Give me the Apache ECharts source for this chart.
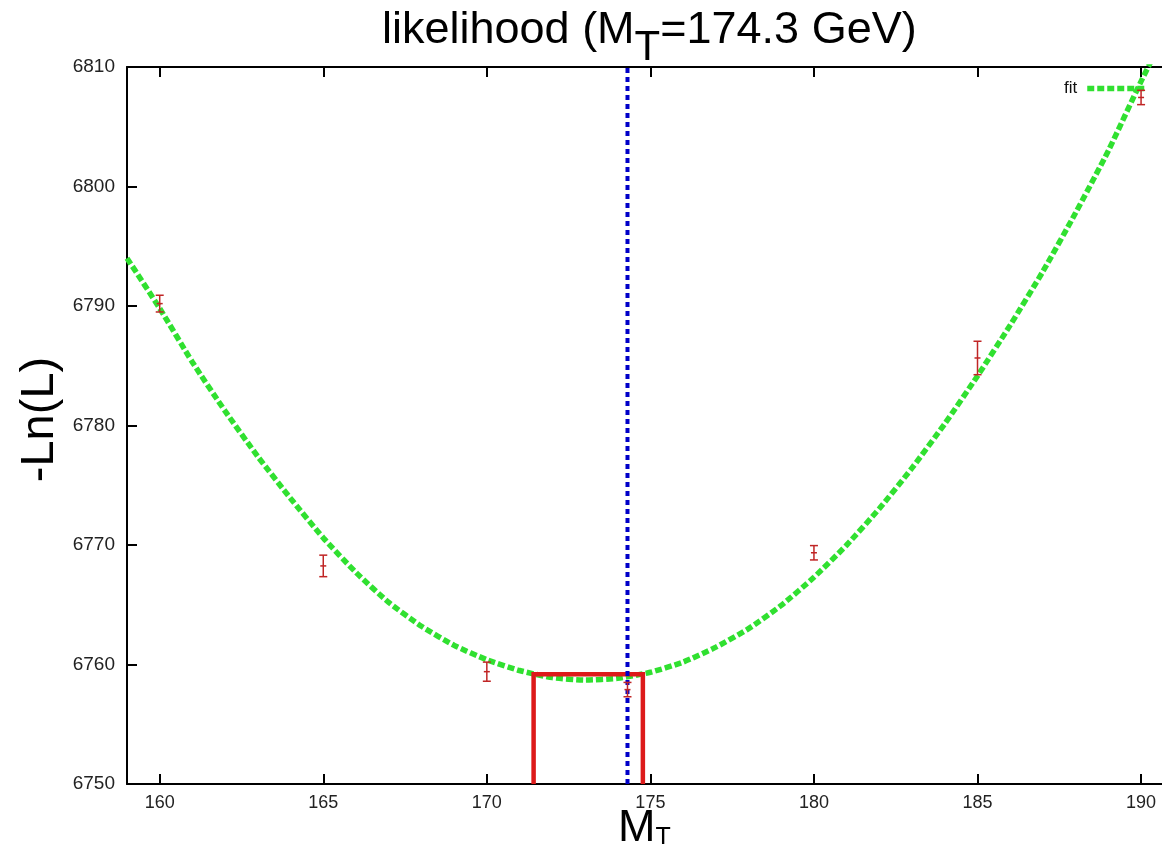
<!DOCTYPE html>
<html>
<head>
<meta charset="utf-8">
<script src="https://cdn.jsdelivr.net/npm/echarts@6/dist/echarts.min.js"></script>
<style>
html,body{margin:0;padding:0;background:#fff;}
#chart{width:1162px;height:844px;}
</style>
</head>
<body>
<div id="chart"></div>
<script>
// ---- data ----
const xTicks = [160, 165, 170, 175, 180, 185, 190];
const fitX = [159, 160, 161, 162, 163, 164, 165, 166, 167, 168, 169, 170, 171, 172, 173, 174, 175, 176, 177, 178, 179, 180, 181, 182, 183, 184, 185, 186, 187, 188, 189, 190, 190.4];
const fitY = [6794.0, 6789.8, 6785.3, 6781.2, 6777.4, 6773.9, 6770.6, 6767.7, 6765.2, 6763.2, 6761.6, 6760.4, 6759.5, 6758.9, 6758.7, 6758.85, 6759.35, 6760.2, 6761.45, 6763.0, 6764.95, 6767.3, 6770.0, 6773.05, 6776.45, 6780.15, 6784.15, 6788.4, 6792.9, 6797.8, 6803.0, 6808.8, 6811.0];
const pointX = [160, 165, 170, 174.3, 180, 185, 190];
const pointY = [6790.2, 6768.25, 6759.4, 6757.9, 6769.35, 6785.65, 6807.45];
const pointErr = [0.7, 0.9, 0.8, 0.6, 0.6, 1.4, 0.6];
const boxX = [171.43, 171.43, 174.77, 174.77];
const boxY = [6750, 6759.18, 6759.18, 6750];
const mtValue = 174.3;
const mtLineY = [6750, 6810];

const fitData = fitX.map((x, i) => [x, fitY[i]]);
const pointData = pointX.map((x, i) => [x, pointY[i], pointErr[i]]);
const boxData = boxX.map((x, i) => [x, boxY[i]]);
const mtData = mtLineY.map(y => [mtValue, y]);

const FONT = '"Liberation Sans", Arial, Helvetica, sans-serif';
const chart = echarts.init(document.getElementById('chart'), null, {renderer: 'canvas'});

const tickCommon = {show: true, inside: true, length: 10, lineStyle: {color: '#000', width: 2}};

chart.setOption({
  animation: false,
  backgroundColor: '#fff',
  title: {
    left: 382, top: 8, padding: 0,
    text: '{a|likelihood (M}{s|T}{a|=174.3 GeV)}',
    textStyle: {
      fontWeight: 'normal',
      rich: {
        a: {fontFamily: FONT, fontSize: 45, lineHeight: 45, fontWeight: 'normal', color: '#000', verticalAlign: 'top'},
        s: {fontFamily: FONT, fontSize: 42, lineHeight: 42, fontWeight: 'normal', color: '#000', verticalAlign: 'top', padding: [19, 0, 0, 0]}
      }
    }
  },
  legend: {
    data: ['fit'], right: 12, top: 80, padding: 0, align: 'right',
    itemWidth: 60, itemHeight: 14,
    itemStyle: {opacity: 0},
    lineStyle: {color: '#30e030', width: 5.5, type: [7, 3], cap: 'butt'},
    textStyle: {fontFamily: FONT, fontSize: 17, color: '#111', padding: [0, 5, 0, 0]}
  },
  grid: {left: 127, right: 0, top: 67, bottom: 60, containLabel: false, outerBoundsMode: 'none'},
  xAxis: [{
    type: 'value', min: 159, max: 190.64, position: 'bottom',
    name: '{m|M}{s|T}', nameLocation: 'middle', nameGap: 22, nameMoveOverlap: false,
    nameTextStyle: {
      rich: {
        m: {fontFamily: FONT, fontSize: 45, lineHeight: 45, color: '#000', verticalAlign: 'top'},
        s: {fontFamily: FONT, fontSize: 25, lineHeight: 25, color: '#000', verticalAlign: 'top', padding: [20, 0, 0, 0]}
      }
    },
    axisLine: {show: true, onZero: false, lineStyle: {color: '#000', width: 2}},
    axisTick: Object.assign({customValues: xTicks}, tickCommon),
    axisLabel: {customValues: xTicks, fontFamily: FONT, fontSize: 18, color: '#222', margin: 10},
    splitLine: {show: false}
  }, {
    type: 'value', min: 159, max: 190.64, position: 'top',
    axisLine: {show: true, onZero: false, lineStyle: {color: '#000', width: 2}},
    axisTick: Object.assign({customValues: xTicks}, tickCommon),
    axisLabel: {show: false},
    splitLine: {show: false}
  }],
  yAxis: {
    type: 'value', min: 6750, max: 6810, interval: 10,
    name: '-Ln(L)', nameLocation: 'middle', nameRotate: 90, nameGap: 63, nameMoveOverlap: false,
    nameTextStyle: {fontFamily: FONT, fontSize: 47, color: '#000', padding: [0, 0, 0, 12]},
    axisLine: {show: true, onZero: false, lineStyle: {color: '#000', width: 2}},
    axisTick: tickCommon,
    axisLabel: {fontFamily: FONT, fontSize: 19, color: '#222', margin: 12, formatter: v => String(v)},
    splitLine: {show: false}
  },
  series: [
    {
      name: 'fit', type: 'line', data: fitData, symbol: 'none', smooth: 0.2,
      clip: true, z: 2,
      lineStyle: {color: '#30e030', width: 5.5, type: [7, 3], cap: 'butt'},
      itemStyle: {color: '#30e030'}
    },
    {
      name: 'box', type: 'line', data: boxData, symbol: 'none', z: 3,
      lineStyle: {color: '#dd1a1a', width: 4.5, join: 'miter'}
    },
    {
      name: 'mt', type: 'line', data: mtData, symbol: 'none', z: 4,
      lineStyle: {color: '#0000c8', width: 4, type: [5, 4]}
    },
    {
      name: 'points', type: 'custom', data: pointData, z: 5,
      renderItem: function (params, api) {
        const x = api.value(0), y = api.value(1), e = api.value(2);
        const t = api.coord([x, y + e]);
        const b = api.coord([x, y - e]);
        const c = api.coord([x, y]);
        const w = 4;
        const st = {stroke: '#c02525', lineWidth: 1.5};
        return {
          type: 'group',
          children: [
            {type: 'line', shape: {x1: t[0], y1: t[1], x2: b[0], y2: b[1]}, style: st},
            {type: 'line', shape: {x1: t[0] - w, y1: t[1], x2: t[0] + w, y2: t[1]}, style: st},
            {type: 'line', shape: {x1: b[0] - w, y1: b[1], x2: b[0] + w, y2: b[1]}, style: st},
            {type: 'line', shape: {x1: c[0] - 3, y1: c[1], x2: c[0] + 3, y2: c[1]}, style: st}
          ]
        };
      }
    }
  ]
});
</script>
</body>
</html>
